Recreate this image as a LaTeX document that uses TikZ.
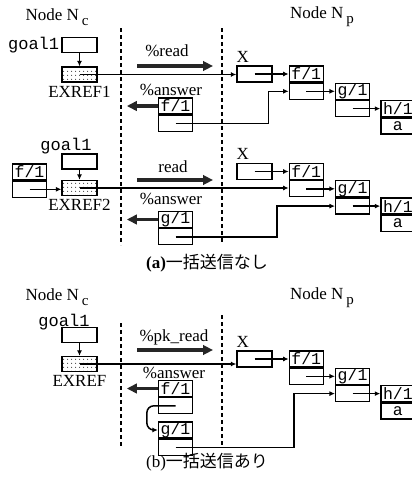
\documentclass[tikz,border=0pt]{standalone}
\usepackage{fontspec}
\setmainfont{Liberation Serif}
\setmonofont{Liberation Mono}
\newfontfamily\jpfont{Noto Sans CJK JP}
\usetikzlibrary{arrows.meta, positioning, patterns.meta}
\newcommand\nodesub[1]{\,\raisebox{-5pt}{\fontsize{15}{15}\selectfont #1}}

\begin{document}
\begin{tikzpicture}[
  x=1pt, y=-1pt,
  lbl/.style={font=\fontsize{17}{19}\selectfont, inner sep=1pt},
  mono/.style={font=\ttfamily\fontsize{17}{19}\selectfont, inner sep=1pt},
  cell/.style={draw, line width=1.3pt, minimum width=34pt, inner sep=0pt,
               font=\ttfamily\fontsize{16.5}{18}\selectfont},
  head/.style={cell, minimum height=16pt},
  body/.style={cell, minimum height=16pt},
  xbox/.style={cell, minimum width=35pt, minimum height=16pt},
  goalbox/.style={cell, minimum width=35pt, minimum height=15pt},
  exref/.style={cell, minimum width=35pt, minimum height=15pt,
                pattern={Dots[distance=4pt, radius=0.6pt]}},
  link/.style={line width=1.5pt, -{Latex[length=5.5pt, width=5pt]}},
  heavy/.style={line width=3.4pt, black!85, -{Triangle[length=10pt, width=9.5pt]}},
  sep/.style={line width=1.4pt, dash pattern=on 4pt off 3pt}
]
\useasboundingbox (0,0) rectangle (412,483);

% (a) first row
\node[lbl] (ncA) at (57,17) {Node N\nodesub{c}};
\node[lbl] (npA) at (322,17) {Node N\nodesub{p}};
\draw[sep] (121,28) -- (121,245);
\draw[sep] (222,28) -- (222,243);

\node[goalbox] (goalA) at (79.5,45) {};
\node[mono, left=1pt of goalA] (goalAl) {goal1};
\node[exref] (exA) at (79.5,74.5) {};
\node[lbl, below=2pt of exA] (exAl) {EXREF1};
\draw[link] (goalA) -- (exA);

\node[xbox] (XA) at (254.5,74) {};
\node[lbl, anchor=south west, inner sep=3pt, xshift=-3pt] (XAl) at (XA.north west) {X};
\node[head, right=16pt of XA] (fA) {f/1};
\node[body, below=0pt of fA] (fAb) {};
\node[head, right=11pt of fAb] (gA) {g/1};
\node[body, below=0pt of gA] (gAb) {};
\node[head, right=10pt of gAb] (hA) {h/1};
\node[body, below=0pt of hA] (hAb) {a};

\node[head] (afA) at (175.5,106) {f/1};
\node[body, below=0pt of afA] (afAb) {};

\coordinate (rdA0) at (137,66);
\coordinate (rdA1) at (213,66);
\draw[heavy] (rdA0) -- (rdA1);
\node[lbl] (rdAl) at (167,51) {\%read};
\coordinate (anA1) at ([xshift=-31pt]afA.west);
\draw[heavy] (afA.west) -- (anA1);
\node[lbl] (anAl) at (171,90) {\%answer};

\draw[link] (exA.center) -- (exA.center -| XA.west);
\draw[link] (XA.center) -- (XA.center -| fA.west);
\draw[link] (fAb.center) -- (fAb.center -| gA.west);
\draw[link] (gAb.center) -- (gAb.center -| hA.west);
\draw[link] (afAb.center) -| ([xshift=-20pt]fAb.west) -- (fAb.west);

% (a) second row
\node[goalbox] (goalB) at (79.5,161.5) {};
\node[mono] (goalBl) at (66,146) {goal1};
\node[exref] (exB) at (79.5,188) {};
\node[lbl, below=2pt of exB] (exBl) {EXREF2};
\draw[link] (goalB) -- (exB);
\node[head] (lfB) at (29.5,172) {f/1};
\node[body, below=0pt of lfB] (lfBb) {};
\draw[link] (lfBb.center) -- (lfBb.center -| exB.west);

\node[xbox] (XB) at (254.5,171.5) {};
\node[lbl, anchor=south west, inner sep=3pt, xshift=-3pt] (XBl) at (XB.north west) {X};
\node[head, right=16pt of XB] (fB) {f/1};
\node[body, below=0pt of fB] (fBb) {};
\node[head, right=11pt of fBb] (gB) {g/1};
\node[body, below=0pt of gB] (gBb) {};
\node[head, right=10pt of gBb] (hB) {h/1};
\node[body, below=0pt of hB] (hBb) {a};

\node[head] (agB) at (175.5,219.5) {g/1};
\node[body, below=0pt of agB] (agBb) {};

\coordinate (rdB0) at (137,180);
\coordinate (rdB1) at (213,180);
\draw[heavy] (rdB0) -- (rdB1);
\node[lbl] (rdBl) at (173,167) {read};
\coordinate (anB1) at ([xshift=-31pt]agB.west);
\draw[heavy] (agB.west) -- (anB1);
\node[lbl] (anBl) at (171,199) {\%answer};

\draw[link] (exB.center) -- (exB.center -| fBb.west);
\draw[link] (XB.center) -- (XB.center -| fB.west);
\draw[link] (fBb.center) -- (fBb.center -| gB.west);
\draw[link] (gBb.center) -- (gBb.center -| hB.west);
\draw[link] (agBb.center) -| ([xshift=-58pt]gBb.west) -- (gBb.west);

\node[lbl] (capA) at (207,263) {\textbf{(a)}{\jpfont 一括送信なし}};

% (b)
\node[lbl] (ncC) at (57,297) {Node N\nodesub{c}};
\node[lbl] (npC) at (322,298) {Node N\nodesub{p}};
\draw[sep] (121,323) -- (121,448);
\draw[sep] (222,315) -- (222,447);

\node[goalbox] (goalC) at (79.5,335) {};
\node[mono] (goalCl) at (64,322) {goal1};
\node[exref] (exC) at (79.5,364) {};
\node[lbl, below=2pt of exC] (exCl) {EXREF};
\draw[link] (goalC) -- (exC);

\node[xbox] (XC) at (254.5,359) {};
\node[lbl, anchor=south west, inner sep=3pt, xshift=-3pt] (XCl) at (XC.north west) {X};
\node[head, right=16pt of XC] (fC) {f/1};
\node[body, below=0pt of fC] (fCb) {};
\node[head, right=11pt of fCb] (gC) {g/1};
\node[body, below=0pt of gC] (gCb) {};
\node[head, right=10pt of gCb] (hC) {h/1};
\node[body, below=0pt of hC] (hCb) {a};

\node[head] (afC) at (175.5,388.5) {f/1};
\node[body, below=0pt of afC] (afCb) {};
\node[head] (agC) at (175.5,430) {g/1};
\node[body, below=0pt of agC] (agCb) {};

\coordinate (rdC0) at (137,350);
\coordinate (rdC1) at (213,350);
\draw[heavy] (rdC0) -- (rdC1);
\node[lbl] (rdCl) at (174,337) {\%pk\_read};
\coordinate (anC1) at ([xshift=-31pt]afC.west);
\draw[heavy] (afC.west) -- (anC1);
\node[lbl] (anCl) at (174,373) {\%answer};

\draw[link] (exC.center) -- (exC.center -| XC.west);
\draw[link] (XC.center) -- (XC.center -| fC.west);
\draw[link] (fCb.center) -- (fCb.center -| gC.west);
\draw[link] (gCb.center) -- (gCb.center -| hC.west);
\draw[link, rounded corners=7pt] (afCb.center) -| ([xshift=-11pt]agC.west) -- (agC.west);
\draw[link] (agCb.center) -| ([xshift=-41pt]gCb.west) -- (gCb.west);

\node[lbl] (capC) at (207,462) {(b){\jpfont 一括送信あり}};
\end{tikzpicture}
\end{document}
